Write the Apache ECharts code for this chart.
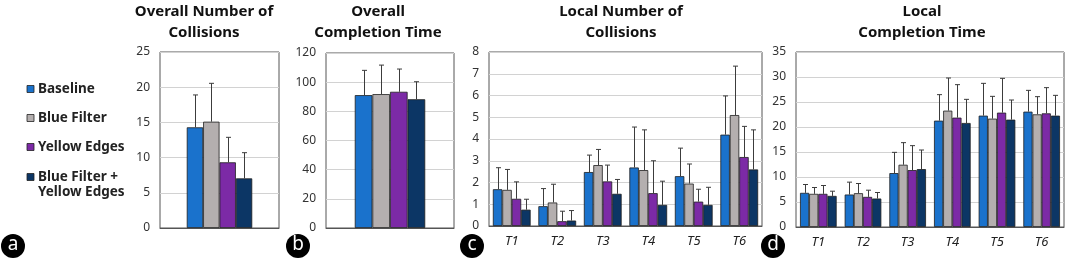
<!DOCTYPE html>
<html>
<head>
<meta charset="utf-8">
<script src="https://cdn.jsdelivr.net/npm/echarts@6/dist/echarts.min.js"></script>
<style>
  html, body { margin: 0; padding: 0; background: #fff; }
  #chart { width: 1065px; height: 259px; }
</style>
</head>
<body>
<div id="chart"></div>
<script>
// conditions (legend order)
const conditions = ['Baseline', 'Blue Filter', 'Yellow Edges', 'Blue Filter + Yellow Edges'];
const colors = ['#1a72cc', '#b4afaf', '#7c2aa6', '#0c3665'];
const tasks = ['T1', 'T2', 'T3', 'T4', 'T5', 'T6'];

// (a) overall number of collisions: mean and sd per condition
const overallCollisionsMean = [14.3, 15.1, 9.33, 7.05];
const overallCollisionsSd = [4.6, 5.45, 3.55, 3.65];

// (b) overall completion time
const overallTimeMean = [91.1, 91.8, 93.4, 88.3];
const overallTimeSd = [17.0, 19.9, 15.6, 12.0];

// (c) local number of collisions, one row per condition, T1..T6
const localCollisionsMean = [
  [1.69, 0.91, 2.48, 2.69, 2.29, 4.2],
  [1.66, 1.08, 2.8, 2.57, 1.95, 5.1],
  [1.25, 0.22, 2.05, 1.51, 1.12, 3.17],
  [0.75, 0.25, 1.48, 0.97, 0.97, 2.6]
];
const localCollisionsSd = [
  [0.99, 0.81, 0.78, 1.86, 1.29, 1.78],
  [0.94, 0.84, 0.72, 1.85, 0.9, 2.25],
  [0.78, 0.46, 0.75, 1.49, 0.57, 1.41],
  [0.48, 0.46, 0.66, 1.09, 0.81, 1.82]
];

// (d) local completion time
const localTimeMean = [
  [6.83, 6.49, 10.78, 21.27, 22.27, 23.07],
  [6.63, 6.76, 12.45, 23.27, 21.67, 22.53],
  [6.63, 6.02, 11.38, 21.87, 22.87, 22.73],
  [6.22, 5.69, 11.58, 20.8, 21.47, 22.27]
];
const localTimeSd = [
  [1.67, 2.48, 4.15, 5.2, 6.46, 4.26],
  [1.27, 1.94, 4.42, 6.53, 4.46, 3.54],
  [1.67, 1.34, 4.89, 6.6, 6.86, 5.14],
  [0.94, 1.21, 3.82, 4.73, 3.93, 4.06]
];

const FONT = '"Noto Sans", "DejaVu Sans", sans-serif';

const panels = [
  { title: 'Overall Number of\nCollisions', tx: 204, letter: 'a', lx: 13,
    cats: [''], mean: overallCollisionsMean.map(v => [v]), sd: overallCollisionsSd.map(v => [v]),
    max: 25, interval: 5, gap: 0.45,
    grid: { left: 160, top: 52, width: 119, height: 176 } },
  { title: 'Overall\nCompletion Time', tx: 378, letter: 'b', lx: 298,
    cats: [''], mean: overallTimeMean.map(v => [v]), sd: overallTimeSd.map(v => [v]),
    max: 120, interval: 20, gap: 0.45,
    grid: { left: 326, top: 53, width: 128, height: 175 } },
  { title: 'Local Number of\nCollisions', tx: 621, letter: 'c', lx: 472,
    cats: tasks, mean: localCollisionsMean, sd: localCollisionsSd,
    max: 8, interval: 1, gap: 0.17,
    grid: { left: 489, top: 52, width: 273, height: 174 } },
  { title: 'Local\nCompletion Time', tx: 922, letter: 'd', lx: 773,
    cats: tasks, mean: localTimeMean, sd: localTimeSd,
    max: 35, interval: 5, gap: 0.18,
    grid: { left: 796, top: 52, width: 268, height: 175 } }
];

function errorBar(k, gap) {
  return function (params, api) {
    const i = api.value(0);
    const lo = api.coord([i, api.value(1)]);
    const hi = api.coord([i, api.value(2)]);
    const band = api.size([1, 0])[0];
    const bw = band * (1 - gap) / conditions.length;
    const x = Math.round(lo[0] + (k - 1.5) * bw) + 0.5;
    const cap = 2.5;
    const st = { stroke: '#3c3c3c', lineWidth: 1 };
    return {
      type: 'group',
      children: [
        { type: 'line', shape: { x1: x, y1: lo[1], x2: x, y2: hi[1] }, style: st },
        { type: 'line', shape: { x1: x - cap, y1: hi[1], x2: x + cap, y2: hi[1] }, style: st }
      ]
    };
  };
}

const grid = [], xAxis = [], yAxis = [], series = [], graphic = [];

panels.forEach((p, g) => {
  grid.push(Object.assign({ show: true, borderColor: '#555', borderWidth: 1, backgroundColor: 'transparent' }, p.grid));
  xAxis.push({
    type: 'category', gridIndex: g, data: p.cats,
    axisLine: { show: true, lineStyle: { color: '#555' } },
    axisTick: { show: false },
    axisLabel: { show: p.cats.length > 1, fontFamily: FONT, fontSize: 13, fontStyle: 'italic', color: '#222', margin: 9 }
  });
  yAxis.push({
    type: 'value', gridIndex: g, min: 0, max: p.max, interval: p.interval,
    axisLine: { show: false }, axisTick: { show: false },
    splitLine: { lineStyle: { color: '#d2d2d2' } },
    axisLabel: { fontFamily: FONT, fontSize: 12, color: '#333', margin: 10 }
  });

  conditions.forEach((name, k) => {
    series.push({
      name: name, type: 'bar', xAxisIndex: g, yAxisIndex: g,
      data: p.mean[k],
      barGap: '0%', barCategoryGap: (p.gap * 100) + '%',
      itemStyle: { color: colors[k], borderColor: '#1e1e1e', borderWidth: 0.8 }
    });
  });
  conditions.forEach((name, k) => {
    series.push({
      name: name, type: 'custom', xAxisIndex: g, yAxisIndex: g, z: 5,
      renderItem: errorBar(k, p.gap),
      encode: { x: 0, y: [1, 2] },
      data: p.cats.map((c, i) => [i, p.mean[k][i], p.mean[k][i] + p.sd[k][i]])
    });
  });

  // panel title
  graphic.push({
    type: 'text', x: p.tx, y: 1,
    style: { text: p.title, align: 'center', verticalAlign: 'top', fontFamily: FONT, fontSize: 15, fontWeight: 'bold', lineHeight: 21, fill: '#111' }
  });
  // panel letter badge
  graphic.push({ type: 'circle', shape: { cx: p.lx, cy: 246, r: 12 }, style: { fill: '#000' } });
  graphic.push({
    type: 'text', x: p.lx, y: 245,
    style: { text: p.letter, align: 'center', verticalAlign: 'middle', fontFamily: FONT, fontSize: 19, fill: '#fff' }
  });
});

// legend on the left
const legendY = [89, 118, 147, 177];
const legendText = ['Baseline', 'Blue Filter', 'Yellow Edges', 'Blue Filter +\nYellow Edges'];
conditions.forEach((name, k) => {
  graphic.push({ type: 'rect', shape: { x: 27, y: legendY[k] - 3.5, width: 7, height: 7 }, style: { fill: colors[k], stroke: '#222', lineWidth: 0.8 } });
  graphic.push({
    type: 'text', x: 38, y: legendY[k] - 7.5,
    style: { text: legendText[k], align: 'left', verticalAlign: 'top', fontFamily: FONT, fontSize: 13.5, fontWeight: 'bold', lineHeight: 15, fill: '#222' }
  });
});

const chart = echarts.init(document.getElementById('chart'));
chart.setOption({
  animation: false,
  backgroundColor: '#fff',
  grid: grid,
  xAxis: xAxis,
  yAxis: yAxis,
  series: series,
  graphic: graphic
});
</script>
</body>
</html>
